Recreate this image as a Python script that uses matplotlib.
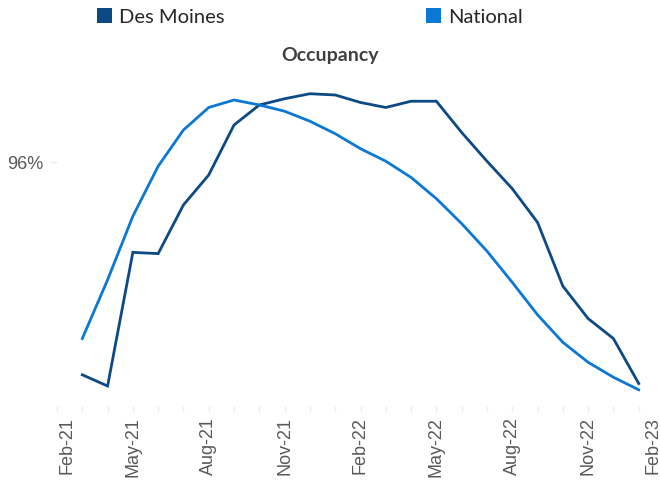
import matplotlib
matplotlib.use("Agg")
import matplotlib.pyplot as plt
from matplotlib.patches import Patch
from matplotlib.transforms import ScaledTranslation

# ---- data ----
months = ["Feb-21", "Mar-21", "Apr-21", "May-21", "Jun-21", "Jul-21", "Aug-21", "Sep-21",
          "Oct-21", "Nov-21", "Dec-21", "Jan-22", "Feb-22", "Mar-22", "Apr-22", "May-22",
          "Jun-22", "Jul-22", "Aug-22", "Sep-22", "Oct-22", "Nov-22", "Dec-22", "Jan-23", "Feb-23"]
data_months = months[1:24]  # Mar-21 .. Jan-23
des_moines = [94.30, 94.21, 95.28, 95.27, 95.66, 95.90, 96.30, 96.46, 96.51, 96.55, 96.54, 96.48,
              96.44, 96.49, 96.49, 96.24, 96.01, 95.79, 95.52, 95.01, 94.75, 94.59, 94.23]
national = [94.59, 95.06, 95.57, 95.97, 96.26, 96.44, 96.50, 96.46, 96.41, 96.33, 96.23, 96.11,
            96.01, 95.88, 95.71, 95.51, 95.29, 95.04, 94.78, 94.56, 94.40, 94.28, 94.18]
label_months = months[::3]
y_ticks = [96]
y_tick_labels = ["96%"]

DM_COLOR = "#0B4A84"
NAT_COLOR = "#0A78D4"

fig = plt.figure(figsize=(6.6, 4.8), dpi=100)
ax = fig.add_axes([57 / 660, 74 / 480, 607 / 660, 326 / 480])

xpos = {m: i for i, m in enumerate(months)}
xs = [xpos[m] for m in data_months]
ax.plot(xs, des_moines, color=DM_COLOR, lw=2.0, solid_joinstyle="miter")
ax.plot(xs, national, color=NAT_COLOR, lw=2.0, solid_joinstyle="miter")

ax.set_xlim(0, 24)
ax.set_ylim(94.05, 96.66)

for s in ax.spines.values():
    s.set_visible(False)

ax.set_xticks(range(len(months)), minor=True)
ax.set_xticks([xpos[m] for m in label_months])
ax.set_xticklabels(label_months, rotation=90, fontsize=13, color="#595959",
                   family="Liberation Sans")
ax.tick_params(axis="x", which="both", length=4, color="#EDEDED", width=1, pad=4)
ax.tick_params(axis="x", which="minor", labelbottom=False)

ax.set_yticks(y_ticks)
ax.set_yticklabels(y_tick_labels, fontsize=13, color="#595959", family="Liberation Sans")
ax.tick_params(axis="y", length=5, color="#EDEDED", width=1, pad=5)

# shift edge labels inward as in the reference
ticks = ax.xaxis.get_major_ticks()
ticks[0].label1.set_transform(ticks[0].label1.get_transform() +
                              ScaledTranslation(10 / 100, 0, fig.dpi_scale_trans))
ticks[-1].label1.set_transform(ticks[-1].label1.get_transform() +
                               ScaledTranslation(-11 / 100, 0, fig.dpi_scale_trans))

fig.text(0.5, 1 - 55 / 480, "Occupancy", ha="center", va="center", fontsize=14,
         fontweight="bold", color="#404040", family="Lato")

handles = [Patch(facecolor=DM_COLOR, edgecolor="none", label="Des Moines"),
           Patch(facecolor=NAT_COLOR, edgecolor="none", label="National")]
fig.legend(handles=handles, loc="center left", bbox_to_anchor=(97 / 660, 1 - 17 / 480),
           ncol=2, frameon=False, prop={"family": "Lato", "size": 14.5},
           handlelength=0.75, handleheight=0.75, handletextpad=0.35,
           columnspacing=10.0, labelcolor="#262626", borderaxespad=0, borderpad=0)

fig.savefig("out.png", dpi=100)
